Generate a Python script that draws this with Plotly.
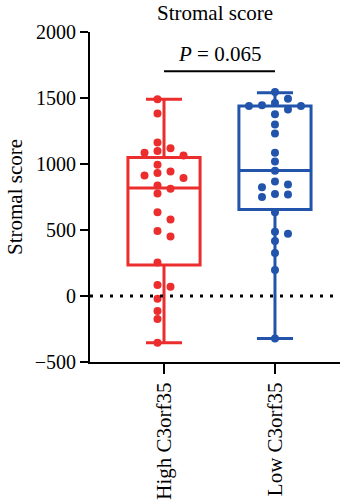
import plotly.graph_objects as go
import numpy as np

groups = ["High C3orf35", "Low C3orf35"]
high_values = [1490, 1382, 1162, 1119, 1099, 1086, 1064, 994, 944, 931, 913, 893,
               838, 813, 776, 635, 580, 492, 450, 254, 84, 71, -21, -114, -175, -355]
low_values = [1545, 1495, 1462, 1445, 1440, 1440, 1412, 1377, 1299, 1232, 1086, 1019,
              949, 868, 844, 823, 773, 768, 750, 635, 487, 472, 417, 325, 197, -322]
q1 = [235, 655]
median = [818, 951]
q3 = [1049, 1440]
lower_fence = [-355, -322]
upper_fence = [1490, 1540]
colors = ["#EC2D2D", "#2254AC"]
p_label = "<i>P</i> = 0.065"
p_bar_y = 1703
title_text = "Stromal score"
y_title = "Stromal score"
y_ticks = [-500, 0, 500, 1000, 1500, 2000]

FONT = "Liberation Serif"
PX_PER_UNIT = 330 / 2500.0
PX_PER_X = 111.0


def swarm(vals, half=False, step_px=13.0, thresh_px=7.5):
    vals = np.asarray(vals, dtype=float)
    order = np.argsort(-vals)
    placed = []
    offs = np.zeros(len(vals))
    if half:
        cands = []
        for j in range(0, 7):
            cands += [-(j + 0.5), j + 0.5]
    else:
        cands = [0]
        for j in range(1, 8):
            cands += [j, -j]
    for i in order:
        v = vals[i]
        chosen = cands[-1]
        for c in cands:
            ok = True
            for pc, pv in placed:
                if pc == c and abs(pv - v) * PX_PER_UNIT < thresh_px:
                    ok = False
                    break
            if ok:
                chosen = c
                break
        placed.append((chosen, v))
        offs[i] = chosen * step_px / PX_PER_X
    return offs


fig = go.Figure()
series = [high_values, low_values]
for i in range(2):
    fig.add_trace(go.Box(
        x=[i], q1=[q1[i]], median=[median[i]], q3=[q3[i]],
        lowerfence=[lower_fence[i]], upperfence=[upper_fence[i]],
        boxpoints=False, width=0.65, whiskerwidth=0.5,
        line=dict(color=colors[i], width=3),
        fillcolor="rgba(0,0,0,0)", showlegend=False, hoverinfo="skip",
    ))
for i in range(2):
    offs = swarm(series[i], half=(i == 0))
    fig.add_trace(go.Scatter(
        x=i + offs, y=series[i], mode="markers",
        marker=dict(color=colors[i], size=8, line=dict(width=0)),
        showlegend=False, hoverinfo="skip",
    ))

# dotted zero line
fig.add_shape(type="line", xref="paper", x0=0, x1=1, yref="y", y0=0, y1=0,
              line=dict(color="black", width=3, dash="3px,7px"))
# significance bar
fig.add_shape(type="line", xref="x", x0=0, x1=1, yref="y", y0=p_bar_y, y1=p_bar_y,
              line=dict(color="black", width=2))
fig.add_annotation(x=0.5, y=p_bar_y, xref="x", yref="y", text=p_label,
                   showarrow=False, yanchor="bottom", yshift=3,
                   font=dict(family=FONT, size=21, color="black"))
fig.add_annotation(x=0.5, y=1, xref="paper", yref="paper", text=title_text,
                   showarrow=False, yanchor="bottom", yshift=5,
                   font=dict(family=FONT, size=21, color="black"))

fig.update_layout(
    width=352, height=500,
    margin=dict(l=90, r=12, t=32, b=138),
    paper_bgcolor="white", plot_bgcolor="white",
    font=dict(family=FONT, size=20, color="black"),
    xaxis=dict(range=[-0.667, 1.586], tickvals=[0, 1], ticktext=groups,
               tickangle=-90, showgrid=False, zeroline=False, automargin=False,
               showline=True, linecolor="black", linewidth=2,
               ticks="outside", ticklen=10, tickwidth=2, tickcolor="black",
               tickfont=dict(family=FONT, size=21)),
    yaxis=dict(range=[-500, 2000], tickvals=y_ticks, showgrid=False, zeroline=False,
               automargin=False,
               showline=True, linecolor="black", linewidth=2,
               ticks="outside", ticklen=8, tickwidth=2, tickcolor="black",
               tickfont=dict(family=FONT, size=20),
               title=dict(text=y_title, font=dict(family=FONT, size=21), standoff=6)),
)

fig.write_html("out.html")
